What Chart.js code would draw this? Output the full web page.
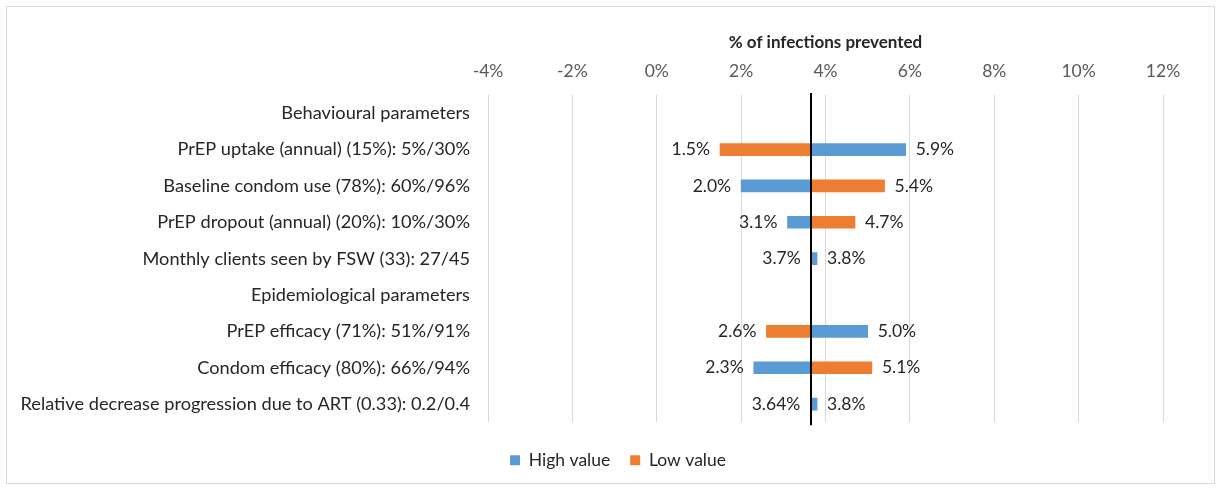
<!DOCTYPE html>
<html>
<head>
<meta charset="utf-8">
<script src="https://cdn.jsdelivr.net/npm/chart.js@4.4.1/dist/chart.umd.min.js"></script>
<style>
  html, body { margin: 0; padding: 0; background: #fff; }
  #wrap { width: 1221px; height: 489px; position: relative; }
</style>
</head>
<body>
<div id="wrap"><canvas id="grafico"></canvas></div>
<script>
// Parametros del analisis de sensibilidad
const categorias = [
  "Behavioural parameters",
  "PrEP uptake (annual) (15%): 5%/30%",
  "Baseline condom use (78%): 60%/96%",
  "PrEP dropout (annual) (20%): 10%/30%",
  "Monthly clients seen by FSW (33): 27/45",
  "Epidemiological parameters",
  "PrEP efficacy (71%): 51%/91%",
  "Condom efficacy (80%): 66%/94%",
  "Relative decrease progression due to ART (0.33): 0.2/0.4"
];
// % de infecciones prevenidas con el valor alto / bajo
const valorAlto = [null, 5.9, 2.0, 3.1, 3.8, null, 5.0, 2.3, 3.8];
const valorBajo = [null, 1.5, 5.4, 4.7, 3.7, null, 2.6, 5.1, 3.64];
// Caso base
const casoBase = 3.65;
const ticksX = [-4, -2, 0, 2, 4, 6, 8, 10, 12];

const AZUL = '#5B9BD5';
const NARANJA = '#ED7D31';
const FUENTE = 'Lato, "Open Sans", sans-serif';

// barras flotantes desde el caso base
const barras = vals => vals.map(v => v === null ? null : [casoBase, v]);

function formato(v) {
  return (Math.round(v * 10) / 10 === v ? v.toFixed(1) : String(v)) + '%';
}

// Marco y fondo
const marco = {
  id: 'marco',
  beforeDraw(chart) {
    const ctx = chart.ctx;
    ctx.save();
    ctx.fillStyle = '#fff';
    ctx.fillRect(0, 0, chart.width, chart.height);
    ctx.strokeStyle = '#d9d9d9';
    ctx.lineWidth = 1;
    ctx.strokeRect(6.5, 6.5, 1208, 477);
    ctx.restore();
  }
};

// Linea del caso base y etiquetas de los valores
const etiquetas = {
  id: 'etiquetas',
  afterDatasetsDraw(chart) {
    const ctx = chart.ctx;
    const x = chart.scales.x, y = chart.scales.y;
    const area = chart.chartArea;
    ctx.save();
    ctx.font = '17.5px ' + FUENTE;
    ctx.fillStyle = '#262626';
    ctx.textBaseline = 'middle';
    categorias.forEach((c, i) => {
      if (valorAlto[i] === null) return;
      const a = valorAlto[i], b = valorBajo[i];
      const izq = Math.min(a, b), der = Math.max(a, b);
      const py = y.getPixelForValue(i);
      ctx.textAlign = 'right';
      ctx.fillText(formato(izq), x.getPixelForValue(Math.min(izq, casoBase)) - 10, py);
      ctx.textAlign = 'left';
      ctx.fillText(formato(der), x.getPixelForValue(Math.max(der, casoBase)) + 10, py);
    });
    const bx = Math.round(x.getPixelForValue(casoBase));
    ctx.strokeStyle = '#000';
    ctx.lineWidth = 2;
    ctx.beginPath();
    ctx.moveTo(bx, area.top - 2);
    ctx.lineTo(bx, area.bottom + 3);
    ctx.stroke();
    ctx.restore();
  }
};

new Chart(document.getElementById('grafico'), {
  type: 'bar',
  data: {
    labels: categorias,
    datasets: [{
      label: 'High value',
      data: barras(valorAlto),
      backgroundColor: AZUL,
      barThickness: 12,
      grouped: false
    }, {
      label: 'Low value',
      data: barras(valorBajo),
      backgroundColor: NARANJA,
      barThickness: 12,
      grouped: false
    }]
  },
  options: {
    indexAxis: 'y',
    responsive: true,
    maintainAspectRatio: false,
    animation: false,
    layout: { padding: { left: 15, right: 0, top: 0, bottom: 10 } },
    scales: {
      x: {
        position: 'top',
        min: -4,
        max: 12,
        afterBuildTicks(scale) {
          scale.ticks = ticksX.map(v => ({ value: v }));
        },
        afterFit(scale) { scale.height = 95; },
        grid: { color: '#d9d9d9', drawTicks: false },
        border: { display: false },
        ticks: {
          padding: 13,
          color: '#595959',
          font: { family: FUENTE, size: 17.5 },
          callback: v => v + '%'
        },
        title: {
          display: true,
          text: '% of infections prevented',
          color: '#262626',
          font: { family: FUENTE, size: 17, weight: 'bold' },
          padding: { top: 32, bottom: 0 }
        }
      },
      y: {
        afterFit(scale) { scale.width = 473; },
        grid: { display: false },
        border: { display: false },
        ticks: {
          padding: 10,
          color: '#262626',
          font: { family: FUENTE, size: 18.2 }
        }
      },
      // eje vacio para dejar el margen derecho
      derecha: {
        type: 'linear',
        position: 'right',
        afterFit(scale) { scale.width = 58; },
        grid: { display: false },
        border: { display: false },
        ticks: { display: false }
      }
    },
    plugins: {
      legend: {
        position: 'bottom',
        title: {
          display: true,
          text: '',
          font: { size: 1 },
          padding: { top: 0, bottom: 8 }
        },
        labels: {
          boxWidth: 10,
          boxHeight: 10,
          padding: 20,
          color: '#262626',
          font: { family: FUENTE, size: 17.5 }
        }
      },
      tooltip: { enabled: false }
    }
  },
  plugins: [marco, etiquetas]
});
</script>
</body>
</html>
